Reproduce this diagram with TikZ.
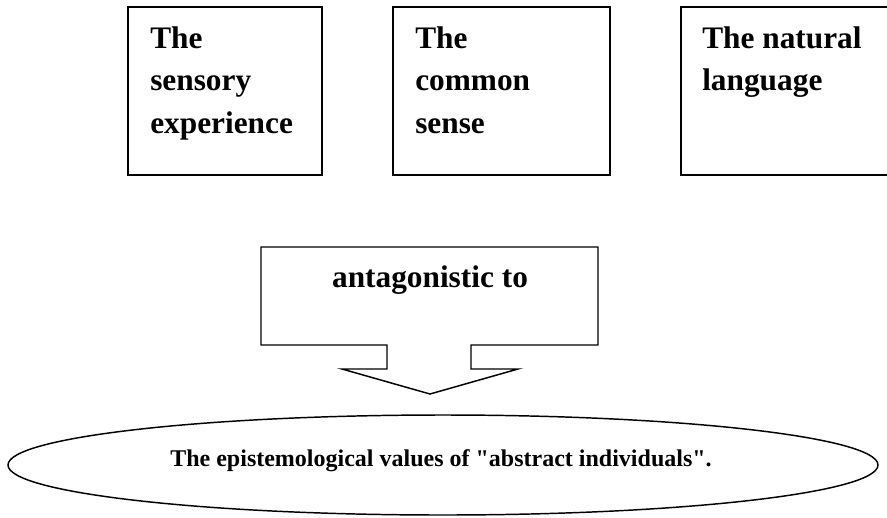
\documentclass[tikz,border=0pt]{standalone}
\usepackage{fontspec}
\setmainfont{Liberation Serif}
\newfontfamily\plainserif{Liberation Serif}
\usetikzlibrary{shapes.geometric}
\begin{document}
\begin{tikzpicture}[x=0.75pt,y=-0.75pt,
  frame/.style={draw=black,line width=1.1pt,fill=white},
  boxtext/.style={anchor=north west,inner sep=0pt,align=left,
    font=\fontsize{23.5}{32.2}\selectfont\bfseries},
  bigtext/.style={anchor=base,inner sep=0pt,font=\fontsize{23.5}{28}\selectfont\bfseries},
  smalltext/.style={anchor=base,inner sep=0pt,font=\plainserif\fontsize{18}{22}\selectfont\bfseries}]
\clip (0,0) rectangle (887,517);
% top boxes
\draw[frame] (128,7) rectangle (322,175);
\node[boxtext] (t1) at (150,26) {The\\sensory\\experience};
\draw[frame] (393,7) rectangle (610,175);
\node[boxtext] (t2) at (415,26) {The\\common\\sense};
\draw[frame] (681,7) rectangle (900,175);
\node[boxtext] (t3) at (702,26) {The natural\\language};
% callout arrow
\coordinate (c1) at (261,247);
\coordinate (c2) at (598,247);
\coordinate (c3) at (598,345);
\coordinate (c4) at (471,345);
\coordinate (c5) at (471,369);
\coordinate (c6) at (518,369);
\coordinate (tip) at (430,394);
\coordinate (c8) at (342,369);
\coordinate (c9) at (387,369);
\coordinate (c10) at (387,345);
\coordinate (c11) at (261,345);
\draw[frame,line join=miter] (c1) -- (c2) -- (c3) -- (c4) -- (c5) -- (c6) -- (tip) -- (c8) -- (c9) -- (c10) -- (c11) -- cycle;
\node[bigtext] (anta) at (430,287) {antagonistic to};
% ellipse
\node[frame,ellipse,minimum width=652.5pt,minimum height=75pt,inner sep=0pt] (ell) at (443,465) {};
\node[smalltext] (etext) at (441,466) {The epistemological values of "abstract individuals".};
\end{tikzpicture}
\end{document}
